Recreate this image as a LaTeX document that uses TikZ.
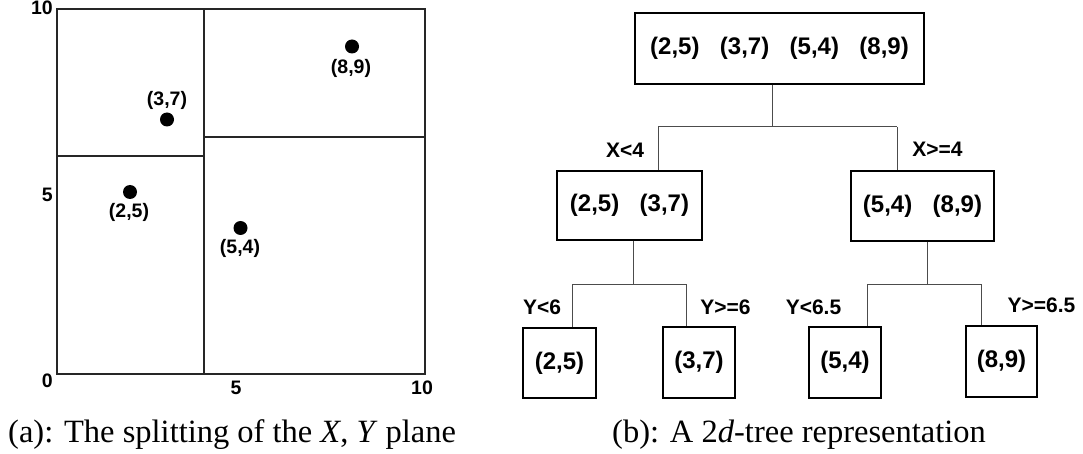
\documentclass[tikz,border=0pt]{standalone}
\usepackage{fontspec}
\setmainfont{Liberation Serif}
\newfontfamily\lab{Liberation Sans}
\begin{document}
\begin{tikzpicture}[x=1pt,y=-1pt,
  frame/.style={draw=black!85,line width=1.2pt},
  split/.style={draw=black!85,line width=1.1pt},
  dot/.style={circle,fill=black,inner sep=0pt,minimum size=14pt},
  ptlab/.style={inner sep=0pt,font=\lab\bfseries\fontsize{19.5}{19.5}\selectfont},
  axlab/.style={inner sep=0pt,font=\lab\bfseries\fontsize{19.5}{19.5}\selectfont},
  treebox/.style={draw=black,line width=1.3pt,inner sep=0pt,font=\lab\bfseries\fontsize{24}{24}\selectfont},
  cond/.style={inner sep=0pt,font=\lab\bfseries\fontsize{21}{21}\selectfont},
  conn/.style={draw=black!70,line width=1pt},
  captext/.style={inner sep=0pt,anchor=base west,font=\fontsize{32.5}{34}\selectfont}]
\useasboundingbox (0,0) rectangle (1083,454);
% ---------- (a) the plane ----------
\draw[frame] (57,9) rectangle (425,374);
\draw[split] (204,9) -- (204,374);
\draw[split] (57,156) -- (204,156);
\draw[split] (204,137) -- (425,137);
\node[dot] (p25) at (130,192) {};
\node[dot] (p37) at (167,119.5) {};
\node[dot] (p54) at (240.5,228) {};
\node[dot] (p89) at (352,46.5) {};
\node[ptlab] (l25) at (129,212) {(2,5)};
\node[ptlab] (l37) at (167,100) {(3,7)};
\node[ptlab] (l54) at (240,248) {(5,4)};
\node[ptlab] (l89) at (351,68) {(8,9)};
\node[axlab,anchor=east] (y10) at (53,8) {10};
\node[axlab,anchor=east] (y5) at (53,195) {5};
\node[axlab,anchor=east] (y0) at (53,381) {0};
\node[axlab] (x5) at (236,388) {5};
\node[axlab] (x10) at (422,388) {10};
\node[captext] (capa) at (8,442) {(a): The splitting of the \textit{X}, \textit{Y} plane};
% ---------- (b) the tree ----------
\node[treebox,minimum width=289pt,minimum height=71pt] (root) at (779.5,48.5)
  {(2,5)\hspace{0.85em}(3,7)\hspace{0.85em}(5,4)\hspace{0.85em}(8,9)};
\node[treebox,minimum width=145pt,minimum height=69pt] (c1) at (629.5,205.5)
  {(2,5)\hspace{0.85em}(3,7)};
\node[treebox,minimum width=143pt,minimum height=70pt] (c2) at (922.5,206)
  {(5,4)\hspace{0.85em}(8,9)};
\node[treebox,minimum width=73pt,minimum height=70pt] (d1) at (559.5,363) {(2,5)};
\node[treebox,minimum width=72pt,minimum height=71pt] (d2) at (699,362.5) {(3,7)};
\node[treebox,minimum width=72pt,minimum height=71pt] (d3) at (845,362.5) {(5,4)};
\node[treebox,minimum width=71pt,minimum height=71pt] (d4) at (1001.5,361.5) {(8,9)};
% junction points
\coordinate (r0) at (772,127);
\coordinate (rL) at (658,127);
\coordinate (rR) at (897,127);
\coordinate (a0) at (633,284);
\coordinate (aL) at (572,284);
\coordinate (aR) at (686,284);
\coordinate (b0) at (927,284);
\coordinate (bL) at (867,284);
\coordinate (bR) at (981,284);
\draw[conn] (root.south -| r0) -- (r0) (rL) -- (rR)
  (rL) -- (c1.north -| rL) (rR) -- (c2.north -| rR);
\draw[conn] (c1.south -| a0) -- (a0) (aL) -- (aR)
  (aL) -- (d1.north -| aL) (aR) -- (d2.north -| aR);
\draw[conn] (c2.south -| b0) -- (b0) (bL) -- (bR)
  (bL) -- (d3.north -| bL) (bR) -- (d4.north -| bR);
\node[cond] (k1) at (625,150) {X<4};
\node[cond] (k2) at (937.5,149) {X>=4};
\node[cond] (k3) at (542,307) {Y<6};
\node[cond] (k4) at (725.5,307) {Y>=6};
\node[cond] (k5) at (813.5,307) {Y<6.5};
\node[cond] (k6) at (1041.5,305) {Y>=6.5};
\node[captext] (capb) at (612,442) {(b): A 2\textit{d}-tree representation};
\end{tikzpicture}
\end{document}
